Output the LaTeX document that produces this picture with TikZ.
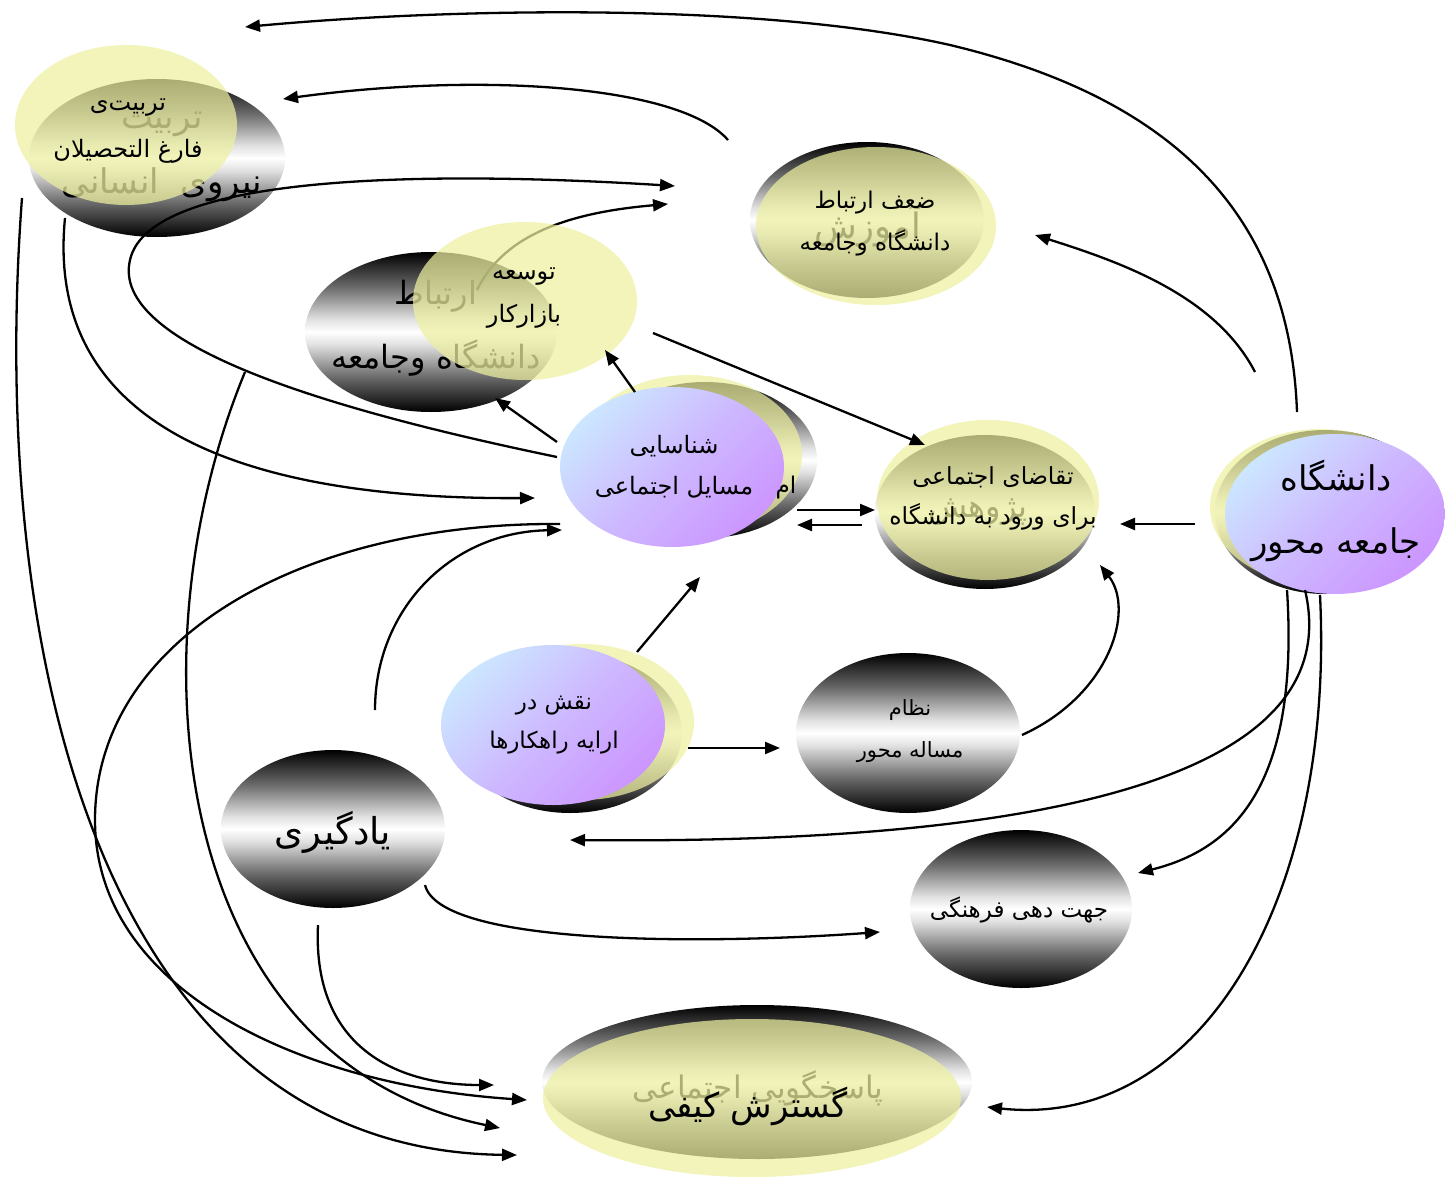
\documentclass[tikz,border=0pt]{standalone}
\usepackage{fontspec}
\usetikzlibrary{shapes.geometric,arrows.meta}
\newfontfamily\fa[Script=Arabic]{DejaVu Sans}
\TeXXeTstate=1
\definecolor{yel}{RGB}{237,240,160}
\definecolor{pblue}{RGB}{204,230,255}
\definecolor{ppur}{RGB}{204,150,255}
\definecolor{pmid}{RGB}{205,185,255}
\pgfdeclareverticalshading{metal}{100bp}{color(0bp)=(black); color(25bp)=(black); color(36bp)=(black!58); color(46bp)=(black!12); color(50bp)=(white); color(54bp)=(black!12); color(64bp)=(black!58); color(75bp)=(black); color(100bp)=(black)}
\tikzset{
 el/.style={ellipse, inner sep=0pt, outer sep=0pt},
 metalel/.style={el, shade, shading=metal},
 yelel/.style={el, fill=yel, fill opacity=0.72},
 purel/.style={el, shade, top color=pblue, bottom color=ppur, middle color=pmid, shading angle=45},
 conn/.style={line width=2.3pt, -{Triangle[length=15pt,width=12pt]}},
 tsmall/.style={align=center, inner sep=0pt, font=\fa\fontsize{21}{42}\selectfont},
 tmid/.style={align=center, inner sep=0pt, font=\fa\fontsize{23}{41}\selectfont},
 tbig/.style={align=center, inner sep=0pt, font=\fa\fontsize{32}{64}\selectfont},
 thuge/.style={align=center, inner sep=0pt, font=\fa\fontsize{34}{40}\selectfont},
}
\begin{document}
\begin{tikzpicture}[x=1pt,y=-1pt]
\useasboundingbox[fill=white] (0,0) rectangle (1445,1180);

% group 1: tarbiat
\node[metalel, minimum width=256pt, minimum height=158pt] (nirB) at (157,158) {};
\node[tbig, font=\fa\fontsize{34}{65}\selectfont] (nirT) at (162,157) {\beginR تربیت\endR\\\beginR نیروی\ \ انسانی\endR};
\node[yelel, minimum width=222pt, minimum height=160pt] (nirY) at (126,125) {};
\node[tmid, font=\fa\fontsize{24}{47}\selectfont] (nirF) at (128,131) {\beginR تربیت‌ی\endR\\\beginR فارغ التحصیلان\endR};

% group 2: ertebat
\node[metalel, minimum width=252pt, minimum height=160pt] (ertB) at (431,332) {};
\node[tbig] (ertT) at (436,328) {\beginR ارتباط\endR\\\beginR دانشگاه وجامعه\endR};
\coordinate (e1) at (477,290); \coordinate (e2) at (668,204);
\draw[conn] (e1) .. controls (505,232) and (575,212) .. (e2);
\node[yelel, minimum width=224pt, minimum height=158pt] (tosY) at (525,301) {};
\node[tmid, font=\fa\fontsize{24}{43}\selectfont] (tosT) at (524,298) {\beginR توسعه\endR\\\beginR بازارکار\endR};

% group 3: zaf
\node[metalel, minimum width=234pt, minimum height=156pt] (zafB) at (867,220) {};
\node[tbig, font=\fa\fontsize{35}{40}\selectfont] (zafA) at (868,226) {\beginR آموزش\endR};
\node[yelel, minimum width=240pt, minimum height=158pt] (zafY) at (876,226) {};
\node[tsmall, font=\fa\fontsize{23}{42}\selectfont] (zafT) at (875,224) {\beginR ضعف ارتباط\endR\\\beginR دانشگاه وجامعه\endR};

% group 4: shenasaei
\node[metalel, minimum width=224pt, minimum height=156pt] (shnB) at (705,460) {};
\node[yelel, minimum width=224pt, minimum height=160pt] (shnY) at (690,455) {};
\node[purel, minimum width=224pt, minimum height=160pt] (shnP) at (672,467) {};
\node[tmid, font=\fa\fontsize{24}{41}\selectfont] (shnT) at (674,467) {\beginR شناسایی\endR\\\beginR مسایل اجتماعی\endR};
\node[tmid] (shnX) at (786,488) {\beginR ام\endR};

% group 5: taghaza
\node[metalel, minimum width=220pt, minimum height=154pt] (tghB) at (985,512) {};
\node[tbig] (tghA) at (978,512) {\beginR پژوهش\endR};
\node[yelel, minimum width=222pt, minimum height=160pt] (tghY) at (988,500) {};
\node[tmid, font=\fa\fontsize{23.5}{40}\selectfont] (tghT) at (993,498) {\beginR تقاضای اجتماعی\endR\\\beginR برای ورود به دانشگاه\endR};

% group 6: daneshgah jameh mehvar
\node[metalel, minimum width=220pt, minimum height=164pt] (dnsB) at (1325,512) {};
\node[yelel, minimum width=220pt, minimum height=156pt] (dnsY) at (1320,507) {};
\node[purel, minimum width=220pt, minimum height=160pt] (dnsP) at (1335,514) {};
\node[tbig, font=\fa\fontsize{34}{63}\selectfont] (dnsT) at (1336,511) {\beginR دانشگاه\endR\\\beginR جامعه محور\endR};

% group 7: naghsh
\node[metalel, minimum width=224pt, minimum height=160pt] (nqsB) at (570,733) {};
\node[yelel, minimum width=224pt, minimum height=156pt] (nqsY) at (582,722) {};
\node[purel, minimum width=224pt, minimum height=160pt] (nqsP) at (553,725) {};
\node[tmid, font=\fa\fontsize{23}{39}\selectfont] (nqsT) at (554,725) {\beginR نقش در\endR\\\beginR ارایه راهکارها\endR};

% group 8: nezam
\node[metalel, minimum width=224pt, minimum height=160pt] (nzmB) at (908,733) {};
\node[tsmall] (nzmT) at (910,731) {\beginR نظام\endR\\\beginR مساله محور\endR};

% group 9: yadgiri
\node[metalel, minimum width=224pt, minimum height=158pt] (ydgB) at (333,829) {};
\node[tbig, font=\fa\fontsize{37}{40}\selectfont] (ydgT) at (333,832) {\beginR یادگیری\endR};

% group 10: jahat
\node[metalel, minimum width=222pt, minimum height=158pt] (jhtB) at (1021,909) {};
\node[tmid] (jhtT) at (1019,910) {\beginR جهت دهی فرهنگی\endR};

% group 11: gostaresh
\node[metalel, minimum width=430pt, minimum height=154pt] (gstB) at (757,1082) {};
\node[tbig, font=\fa\fontsize{31}{40}\selectfont] (gstA) at (758,1088) {\beginR پاسخگویی اجتماعی\endR};
\node[yelel, minimum width=418pt, minimum height=158pt] (gstY) at (752,1098) {};
\node[thuge] (gstT) at (748,1106) {\beginR گسترش کیفی\endR};

% connectors
\coordinate (a1) at (1297,412); \coordinate (a2) at (245,27);
\draw[conn] (a1) .. controls (1290,220) and (1180,100) .. (950,45) .. controls (760,2) and (450,8) .. (a2);
\coordinate (b1) at (728,140); \coordinate (b2) at (283,99);
\draw[conn] (b1) .. controls (680,85) and (480,72) .. (b2);
\coordinate (c1) at (1255,372); \coordinate (c2) at (1035,235);
\draw[conn] (c1) .. controls (1215,295) and (1120,262) .. (c2);
\coordinate (d1) at (557,457); \coordinate (d2) at (675,186);
\draw[conn] (d1) .. controls (330,410) and (110,345) .. (130,260) .. controls (150,170) and (450,172) .. (d2);
\coordinate (f1) at (65,218); \coordinate (f2) at (535,498);
\draw[conn] (f1) .. controls (45,420) and (230,500) .. (f2);
\coordinate (g1) at (22,198); \coordinate (g2) at (517,1155);
\draw[conn] (g1) .. controls (-12,650) and (100,1150) .. (g2);
\coordinate (h1) at (245,372); \coordinate (h2) at (500,1128);
\draw[conn] (h1) .. controls (130,650) and (170,1060) .. (h2);
\coordinate (i1) at (560,524); \coordinate (i2) at (527,1100);
\draw[conn] (i1) .. controls (300,522) and (95,640) .. (95,820) .. controls (95,990) and (300,1085) .. (i2);
\coordinate (u1) at (375,710); \coordinate (u2) at (562,530);
\draw[conn] (u1) .. controls (375,610) and (450,532) .. (u2);
\coordinate (n1) at (557,442); \coordinate (n2) at (495,398);
\draw[conn] (n1) -- (n2);
\coordinate (o1) at (635,392); \coordinate (o2) at (605,350);
\draw[conn] (o1) -- (o2);
\coordinate (p1) at (653,333); \coordinate (p2) at (925,445);
\draw[conn] (p1) -- (p2);
\coordinate (q1) at (797,510); \coordinate (q2) at (875,510);
\draw[conn] (q1) -- (q2);
\coordinate (q3) at (862,525); \coordinate (q4) at (797,525);
\draw[conn] (q3) -- (q4);
\coordinate (r1) at (637,652); \coordinate (r2) at (700,577);
\draw[conn] (r1) -- (r2);
\coordinate (s1) at (688,748); \coordinate (s2) at (780,748);
\draw[conn] (s1) -- (s2);
\coordinate (t1) at (1022,735); \coordinate (t2) at (1100,565);
\draw[conn] (t1) .. controls (1110,695) and (1135,610) .. (t2);
\coordinate (v1) at (425,885); \coordinate (v2) at (880,932);
\draw[conn] (v1) .. controls (440,945) and (700,945) .. (v2);
\coordinate (w1) at (318,925); \coordinate (w2) at (494,1085);
\draw[conn] (w1) .. controls (312,1050) and (400,1085) .. (w2);
\coordinate (j1) at (1195,524); \coordinate (j2) at (1120,524);
\draw[conn] (j1) -- (j2);
\coordinate (k1) at (1287,590); \coordinate (k2) at (1138,873);
\draw[conn] (k1) .. controls (1300,790) and (1230,850) .. (k2);
\coordinate (l1) at (1305,590); \coordinate (l2) at (570,840);
\draw[conn] (l1) .. controls (1345,760) and (1100,845) .. (l2);
\coordinate (m1) at (1320,595); \coordinate (m2) at (987,1107);
\draw[conn] (m1) .. controls (1335,900) and (1200,1130) .. (m2);
\end{tikzpicture}
\end{document}
